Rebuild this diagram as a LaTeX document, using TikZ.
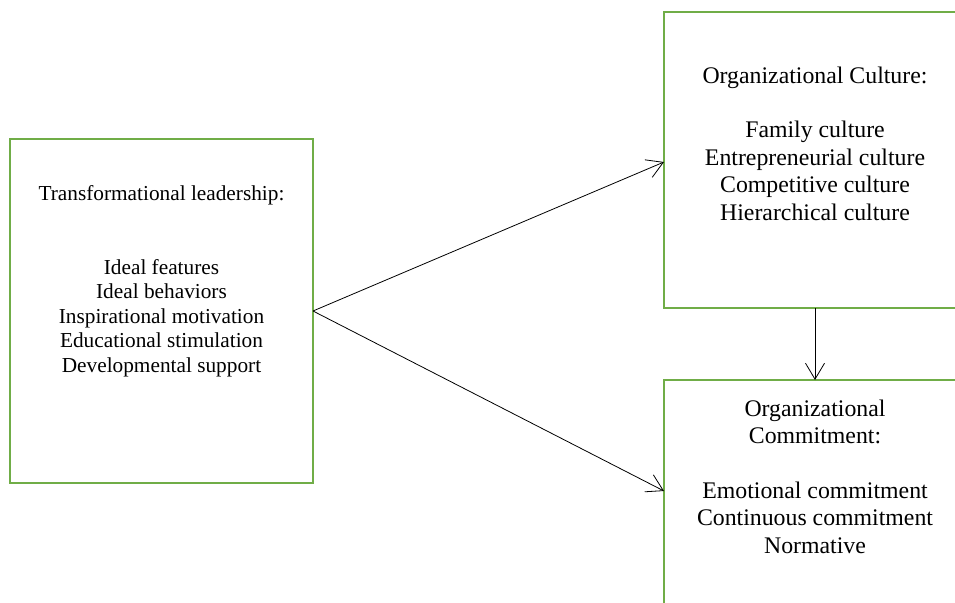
\documentclass[tikz,border=0pt]{standalone}
\usepackage{fontspec}
\setmainfont{Liberation Serif}
\usetikzlibrary{arrows.meta,positioning}
\definecolor{boxgreen}{RGB}{112,173,71}

\begin{document}
\begin{tikzpicture}[x=1pt,y=-1pt,>={Straight Barb[length=16pt,width=19pt]},
  box/.style={draw=boxgreen,line width=2.4pt,inner sep=0pt,outer sep=0pt},
  small text/.style={font=\fontsize{21.3}{24.5}\selectfont,align=center,inner sep=0pt,anchor=base},
  big text/.style={font=\fontsize{23.8}{27.4}\selectfont,align=center,inner sep=0pt,anchor=base},
  link/.style={->,line width=0.8pt}]
\useasboundingbox (0,0) rectangle (955,602);
\clip (0,0) rectangle (955,602);
\begin{scope}
\node[box,minimum width=303pt,minimum height=344pt] (lead) at (161.5,311) {};
\node[box,minimum width=302pt,minimum height=296pt] (culture) at (815,160) {};
\node[box,minimum width=302pt,minimum height=300pt] (commit) at (815,530) {};
\end{scope}
% text blocks sit on the baseline of their last line
\begin{scope}
\node[small text] (leadtext) at (161.5,372) {Transformational leadership:\\[49pt]
  Ideal features\\ Ideal behaviors\\ Inspirational motivation\\
  Educational stimulation\\ Developmental support};
\node[big text] (culturetext) at (815,220) {Organizational Culture:\\[27.4pt]
  Family culture\\ Entrepreneurial culture\\ Competitive culture\\ Hierarchical culture};
\node[big text] (committext) at (815,553) {Organizational\\ Commitment:\\[27.4pt]
  Emotional commitment\\ Continuous commitment\\ Normative};
\end{scope}
\begin{scope}
\draw[link] (lead.east) -- ([yshift=-2pt]culture.west);
\draw[link] (lead.east) -- ([yshift=39pt]commit.west);
\draw[link] (culture) -- (commit);
\end{scope}
\end{tikzpicture}
\end{document}
